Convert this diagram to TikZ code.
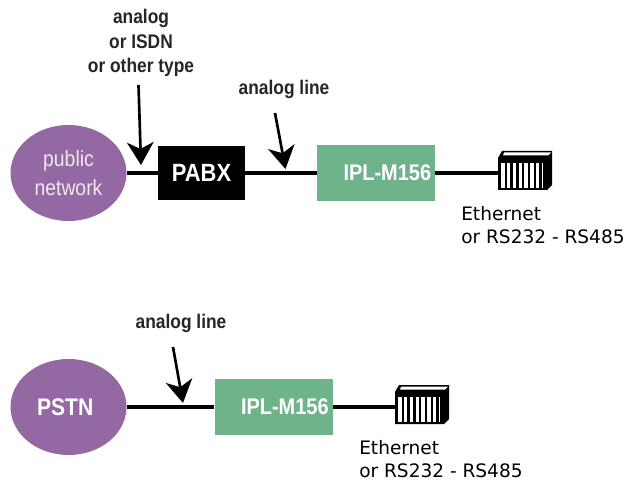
\documentclass[tikz,border=0pt]{standalone}
\usepackage{fontspec}
\setmainfont{Liberation Sans}
\newfontfamily\condfont[FakeStretch=0.88]{Liberation Sans}
\newfontfamily\wide{DejaVu Sans}
\usetikzlibrary{arrows.meta,shapes.geometric}
\definecolor{pur}{HTML}{9468A2}
\definecolor{grn}{HTML}{6FB38A}
\tikzset{
 x=0.75pt,y=-0.75pt,
 blob/.style={ellipse,fill=pur,inner sep=0pt,minimum width=87pt,minimum height=72pt,align=center},
 green box/.style={fill=grn,inner sep=0pt,minimum width=88.5pt,minimum height=42pt,font=\condfont\fontsize{17}{17}\selectfont\bfseries\color{white}},
 black box/.style={fill=black,inner sep=0pt,minimum width=65pt,minimum height=41pt,font=\condfont\fontsize{18.7}{18.7}\selectfont\bfseries\color{white}},
 wire/.style={line width=3pt},
 pointer/.style={line width=2pt,-{Stealth[length=17pt,width=20pt,inset=5pt]}},
 lab/.style={font=\condfont\fontsize{14.8}{18.4}\selectfont\bfseries\color{black!85},align=center,inner sep=0pt},
 plain lab/.style={font=\wide\fontsize{13.9}{17.5}\selectfont,align=left,inner sep=0pt,anchor=north west},
}
\newcommand{\rack}[2]{%
 \begin{scope}[shift={(#1,#2)}]
  \fill (0,-15) -- (4,-22) -- (54,-22) -- (54,12) -- (49,17) -- (0,17) -- cycle;
  \fill[white] (6,-20.5) -- (53,-20.5) -- (50,-17.5) -- (5,-17.5) -- cycle;
  \fill[white] (3,-10) rectangle (45,15);
  \foreach \i in {0,...,6} \fill (6.5+\i*5.8,-10) rectangle (9+\i*5.8,15);
 \end{scope}}
\begin{document}
\begin{tikzpicture}
\useasboundingbox (0,0) rectangle (635,488);
\fill[white] (0,0) rectangle (635,488);
\node[blob,text=white!85!pur,font=\condfont\fontsize{16.5}{21.7}\selectfont] (pub) at (68.5,173) {public\\network};
\node[black box] (pabx) at (201.5,173) {PABX};
\node[green box] (ipl1) at (376,173) {\hspace*{17pt}IPL-M156};
\coordinate (dev1) at (498,173);
\draw[wire] (pub.east) -- (pabx.west);
\draw[wire] (pabx.east) -- (ipl1.west);
\draw[wire] (ipl1.east) -- (dev1);
\rack{498}{173}
\node[lab] (l1) at (141,43) {analog\\or ISDN\\or other type};
\coordinate (a1s) at (138.5,85);
\coordinate (a1e) at (141,165);
\draw[pointer] (a1s) -- (a1e);
\node[lab] (l2) at (284,89) {analog line};
\coordinate (a2s) at (275,113);
\coordinate (a2e) at (285.5,169);
\draw[pointer] (a2s) -- (a2e);
\node[plain lab] (e1) at (461,206) {Ethernet\\or RS232 - RS485};
\node[blob,text=white,font=\condfont\fontsize{18}{19}\selectfont\bfseries] (pstn) at (68.5,407) {\hspace*{-5pt}PSTN};
\node[green box] (ipl2) at (273.5,407) {\hspace*{17pt}IPL-M156};
\coordinate (dev2) at (395,407);
\draw[wire] (pstn.east) -- (ipl2.west);
\draw[wire] (ipl2.east) -- (dev2);
\rack{395}{407}
\node[lab] (l3) at (181,323) {analog line};
\coordinate (a3s) at (173,347);
\coordinate (a3e) at (183,403);
\draw[pointer] (a3s) -- (a3e);
\node[plain lab] (e2) at (359,440) {Ethernet\\or RS232 - RS485};
\end{tikzpicture}
\end{document}
